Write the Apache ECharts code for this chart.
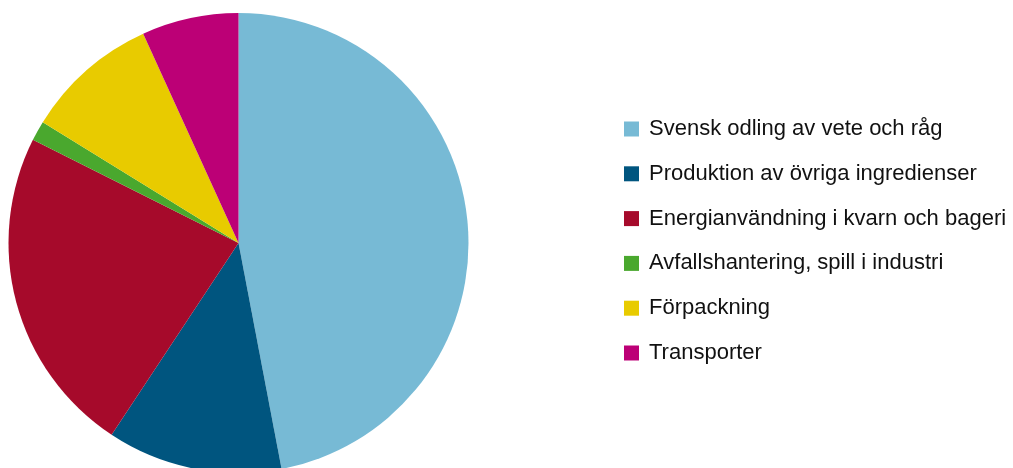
<!DOCTYPE html>
<html>
<head>
<meta charset="utf-8">
<script src="https://cdn.jsdelivr.net/npm/echarts@6/dist/echarts.min.js"></script>
<style>
  html, body { margin: 0; padding: 0; background: #ffffff; }
  #chart { width: 1013px; height: 468px; }
</style>
</head>
<body>
<div id="chart"></div>
<script>
// Klimatpåverkan per led i kedjan (andel, %)
const categories = [
  'Svensk odling av vete och råg',
  'Produktion av övriga ingredienser',
  'Energianvändning i kvarn och bageri',
  'Avfallshantering, spill i industri',
  'Förpackning',
  'Transporter'
];
const shares = [47.0, 12.3, 23.1, 1.4, 9.4, 6.8];
const colors = ['#77BAD5', '#00557F', '#A60A2B', '#4AA82E', '#E8CB00', '#BC0076'];

const chart = echarts.init(document.getElementById('chart'), null, { renderer: 'canvas' });

chart.setOption({
  animation: false,
  color: colors,
  legend: {
    orient: 'vertical',
    left: 624,
    top: 118,
    padding: 0,
    itemWidth: 15,
    itemHeight: 15,
    itemGap: 22.8,
    icon: 'rect',
    data: categories,
    textStyle: {
      fontFamily: 'Liberation Sans, Arial, sans-serif',
      fontSize: 22,
      lineHeight: 22,
      color: '#111111',
      padding: [0, 0, 0, 5]
    }
  },
  series: [{
    type: 'pie',
    center: [238.5, 243],
    radius: [0, 230],
    startAngle: 90,
    clockwise: true,
    label: { show: false },
    labelLine: { show: false },
    emphasis: { disabled: true },
    itemStyle: { borderWidth: 0 },
    data: categories.map((name, i) => ({ name, value: shares[i] }))
  }]
});
</script>
</body>
</html>
